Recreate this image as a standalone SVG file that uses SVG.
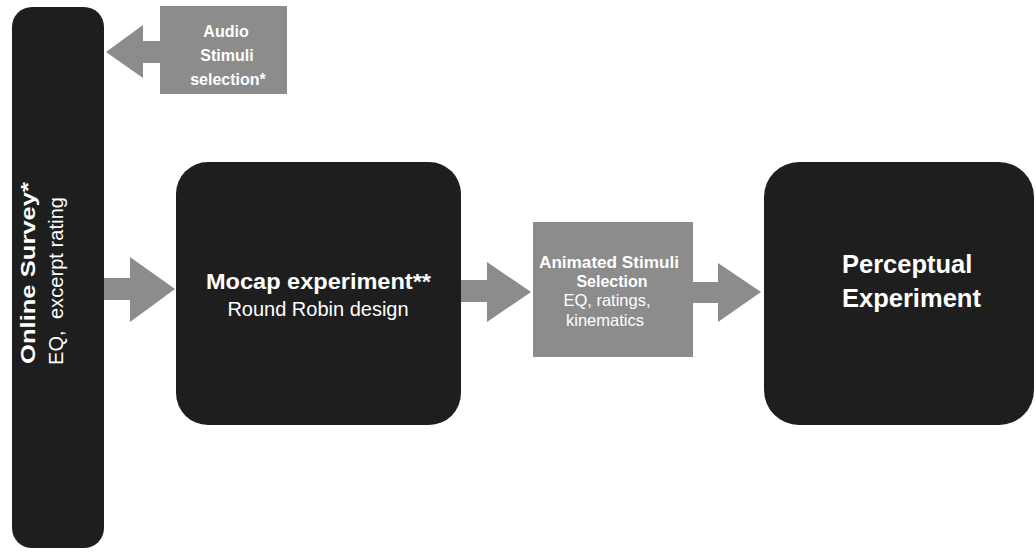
<svg xmlns="http://www.w3.org/2000/svg" width="1036" height="552" viewBox="0 0 1036 552">
  <style>
    .dark { fill: #1e1e1e; }
    .gray { fill: #8c8c8c; }
    .arrow { fill: #8c8c8c; }
    text { font-family: "Liberation Sans", Arial, Helvetica, sans-serif; fill: #ffffff; }
    .b { font-weight: bold; }
  </style>
  <rect width="1036" height="552" fill="#ffffff"/>

  <g id="connectors">
    <polygon class="arrow" points="160,41 143,41 143,25 106,52 143,78 143,63 160,63"/>
    <polygon class="arrow" points="104,278 130,278 130,257 175,289 130,322 130,300 104,300"/>
    <polygon class="arrow" points="461,280 487,280 487,262 531,292 487,322 487,302 461,302"/>
    <polygon class="arrow" points="693,282 718,282 718,263 761,292 718,322 718,303 693,303"/>
  </g>

  <g id="online-survey">
    <rect class="dark" x="12" y="7" width="92" height="541" rx="20" ry="20"/>
    <text class="b" font-size="21" transform="translate(35,364) rotate(-90)" textLength="182" lengthAdjust="spacingAndGlyphs">Online Survey*</text>
    <text font-size="20" transform="translate(63,365) rotate(-90)" xml:space="preserve" textLength="168">EQ,  excerpt rating</text>
  </g>

  <g id="audio-stimuli">
    <rect class="gray" x="160" y="6" width="127" height="88"/>
    <text class="b" font-size="16" text-anchor="middle" x="226" y="37">Audio</text>
    <text class="b" font-size="16" text-anchor="middle" x="227" y="61">Stimuli</text>
    <text class="b" font-size="16" text-anchor="middle" x="228" y="85">selection*</text>
  </g>

  <g id="mocap">
    <rect class="dark" x="176" y="162" width="285" height="263" rx="32" ry="32"/>
    <text class="b" font-size="22" text-anchor="middle" x="318.5" y="289" textLength="225" lengthAdjust="spacingAndGlyphs">Mocap experiment**</text>
    <text font-size="20" text-anchor="middle" x="318" y="316">Round Robin design</text>
  </g>

  <g id="animated-stimuli">
    <rect class="gray" x="533" y="222" width="160" height="135"/>
    <text class="b" font-size="16" text-anchor="middle" x="609" y="268" textLength="140" lengthAdjust="spacingAndGlyphs">Animated Stimuli</text>
    <text class="b" font-size="16" text-anchor="middle" x="612" y="287">Selection</text>
    <text font-size="16.5" text-anchor="middle" x="607" y="306">EQ, ratings,</text>
    <text font-size="16.5" text-anchor="middle" x="605" y="326">kinematics</text>
  </g>

  <g id="perceptual">
    <rect class="dark" x="764" y="162" width="270" height="263" rx="35" ry="35"/>
    <text class="b" font-size="25.5" x="842" y="273">Perceptual</text>
    <text class="b" font-size="25.5" x="842" y="307">Experiment</text>
  </g>
</svg>
